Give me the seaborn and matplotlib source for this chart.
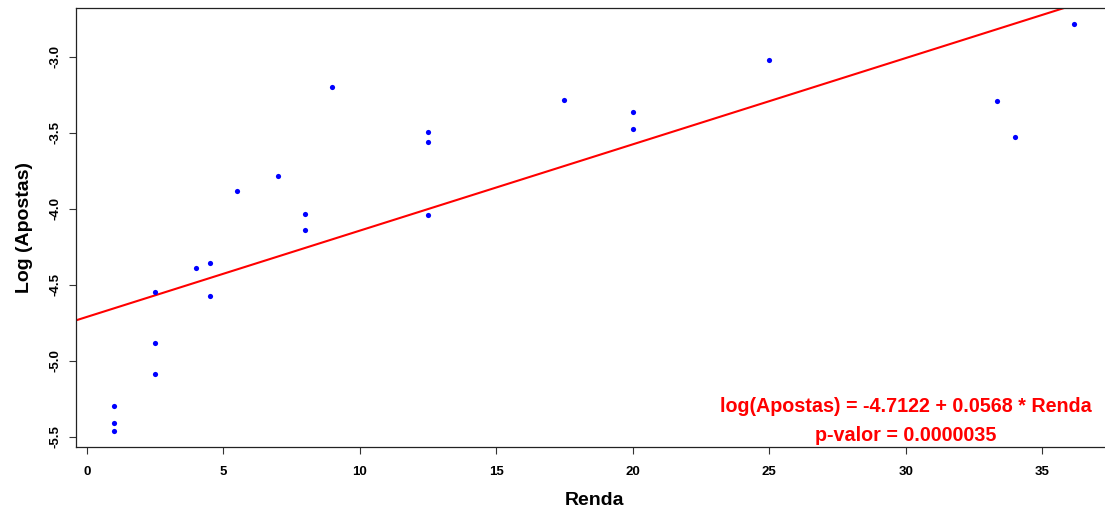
import matplotlib
matplotlib.use("Agg")
import matplotlib.pyplot as plt
import seaborn as sns
import pandas as pd

# ----------------------------------------------------------
# Data
# ----------------------------------------------------------

renda = [1, 1, 1, 2.5, 2.5, 2.5, 4, 4.5, 4.5, 5.5, 7, 8, 8, 9,
         12.5, 12.5, 12.5, 17.5, 20, 20, 25, 33.33, 34, 36.17]
log_apostas = [-5.298, -5.412, -5.462, -4.548, -4.882, -5.090, -4.388,
               -4.355, -4.575, -3.886, -3.787, -4.033, -4.142, -3.199,
               -3.495, -3.561, -4.039, -3.287, -3.364, -3.478, -3.024,
               -3.291, -3.528, -2.783]

intercept = -4.7122
slope = 0.0568
eq_text = "log(Apostas) = -4.7122 + 0.0568 * Renda"
p_text = "p-valor = 0.0000035"

x_ticks = [0, 5, 10, 15, 20, 25, 30, 35]
y_ticks = [-5.5, -5.0, -4.5, -4.0, -3.5, -3.0]

df = pd.DataFrame({"Renda": renda, "LogApostas": log_apostas})

# ----------------------------------------------------------
# Plot
# ----------------------------------------------------------

sns.set_style("ticks")
plt.rcParams["font.family"] = ["Liberation Sans", "DejaVu Sans"]
plt.rcParams["text.color"] = "black"
plt.rcParams["xtick.color"] = "black"
plt.rcParams["ytick.color"] = "black"
plt.rcParams["axes.labelcolor"] = "black"

fig = plt.figure(figsize=(11.05, 5.13), dpi=100)
ax = fig.add_axes([0.0684, 0.1283, 0.9385, 0.857])

sns.scatterplot(
    data=df,
    x="Renda",
    y="LogApostas",
    color="blue",
    s=14,
    linewidth=0,
    ax=ax,
    zorder=3
)

ax.axline((0, intercept), slope=slope, color="red", linewidth=1.5, zorder=2)

# R-style 4% padding
xr = max(renda) - min(renda)
yr = max(log_apostas) - min(log_apostas)
ax.set_xlim(min(renda) - 0.04 * xr, max(renda) + 0.04 * xr)
ax.set_ylim(min(log_apostas) - 0.04 * yr, max(log_apostas) + 0.04 * yr)

ax.set_xticks(x_ticks)
ax.set_xticklabels([str(t) for t in x_ticks], fontweight="bold", fontsize=9.5)
ax.set_yticks(y_ticks)
ax.set_yticklabels([f"{t:.1f}" for t in y_ticks], fontweight="bold",
                   fontsize=9.5, rotation=90, va="center")
ax.tick_params(axis="both", direction="out", length=5.3, width=0.8,
               color="#333333")
ax.tick_params(axis="x", pad=8)
ax.tick_params(axis="y", pad=5)

for sp in ax.spines.values():
    sp.set_color("#222222")
    sp.set_linewidth(0.9)

ax.set_xlabel("Renda", fontsize=14, fontweight="bold", labelpad=10)
ax.set_ylabel("Log (Apostas)", fontsize=14, fontweight="bold", labelpad=12)

ax.text(30, -5.3, eq_text, color="red", fontsize=14.2, fontweight="bold",
        ha="center", va="center")
ax.text(30, -5.49, p_text, color="red", fontsize=14.2, fontweight="bold",
        ha="center", va="center")

fig.savefig("out.png", dpi=100)
plt.close(fig)
